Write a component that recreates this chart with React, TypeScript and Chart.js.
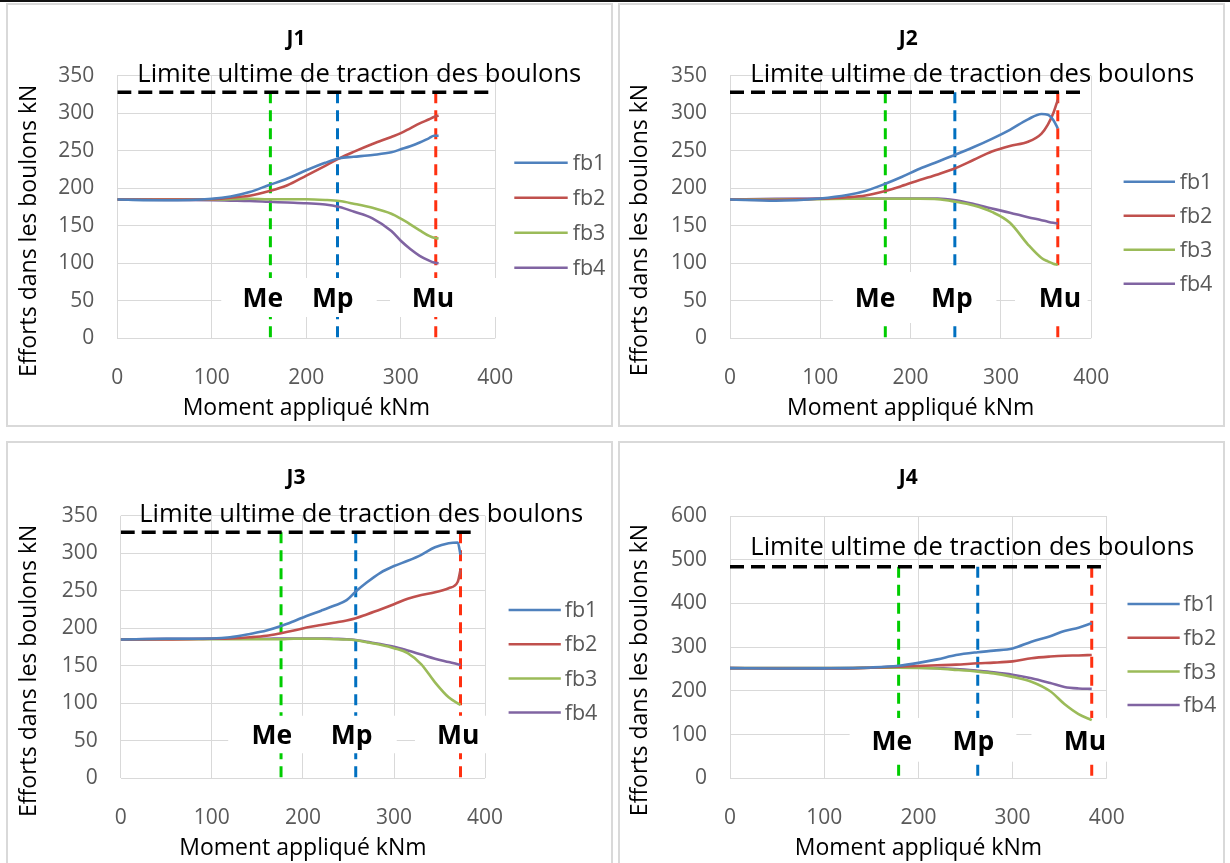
import React, { useEffect, useRef } from "react";
import { Chart, registerables } from "chart.js";

Chart.register(...registerables);

const FONT = '"Open Sans", "Noto Sans", sans-serif';

// ---------- shared texts ----------
const seriesLabels = ["fb1", "fb2", "fb3", "fb4"];
const markerLabels = ["Me", "Mp", "Mu"];
const limitLabel = "Limite ultime de traction des boulons";
const xAxisTitle = "Moment appliqué kNm";
const yAxisTitle = "Efforts dans les boulons kN";
const xTicks = [0, 100, 200, 300, 400];
const yTicks350 = [0, 50, 100, 150, 200, 250, 300, 350];
const yTicks600 = [0, 100, 200, 300, 400, 500, 600];

// ---------- J1 ----------
const j1Moment = [0, 50, 100, 120, 140, 160, 180, 200, 220, 235, 250, 270, 290, 300, 310, 320, 330, 335, 340];
const j1Fb1 = [185, 184, 186, 189, 195, 204, 213, 224, 234, 240, 242, 244.5, 248, 252, 256, 261, 267, 270, 270];
const j1Fb2 = [185, 185, 185.5, 187.5, 190, 196, 204, 217, 230, 240, 248.5, 259, 268.5, 273.5, 280, 286.5, 292, 295, 297];
const j1Fb3 = [185, 185, 185, 185.5, 186, 185.5, 185.5, 185.5, 184.5, 183, 179.5, 174, 166, 159.5, 152, 144, 136.5, 134, 133];
const j1Fb4 = [185, 184.5, 184, 183.5, 183, 182, 181, 180, 178.5, 175, 169, 160, 143, 130, 119, 110, 103.5, 101, 100];
const j1Limit = 328;
const j1LimitX = [0, 400];
const j1Markers = [162, 233, 337];

// ---------- J2 ----------
const j2Moment = [0, 50, 100, 130, 150, 172, 190, 210, 230, 250, 270, 290, 310, 330, 345, 352, 358, 363];
const j2Fb1 = [185, 183.5, 186.5, 191, 196.5, 206, 215, 226, 235.5, 245, 255, 266, 278, 292, 299, 298, 291, 280];
const j2Fb2 = [185, 184.5, 186, 188, 190.5, 196.5, 203, 211, 218.5, 227, 238, 249, 256.5, 262, 273, 285, 300, 318];
const j2Fb3 = [185, 185, 185.5, 186, 186, 186, 186, 186, 185.5, 182, 177, 168.5, 154, 125, 107, 102.5, 99.5, 98];
const j2Fb4 = [185, 186, 186.5, 186.5, 186.5, 186.5, 186.5, 186.5, 186.5, 184, 179, 173, 167.5, 161.5, 157.5, 155.5, 154, 153];
const j2Limit = 328;
const j2LimitX = [0, 392];
const j2Markers = [172, 249, 363];

// ---------- J3 ----------
const j3Moment = [0, 50, 100, 120, 142, 160, 176, 190, 204, 220, 234, 248, 258, 270, 285, 300, 315, 330, 345, 360, 370, 373];
const j3Fb1 = [185, 186, 186.5, 188, 192.5, 197, 203, 209.5, 216.5, 223.5, 230, 237.5, 249, 261, 274, 283, 290, 298, 308, 313.5, 314.5, 298];
const j3Fb2 = [185, 185, 186, 186.5, 188, 190, 193.5, 197, 201, 204.5, 207.5, 210.5, 213.5, 218.5, 225, 232, 239.5, 244.5, 248, 253.5, 262, 278];
const j3Fb3 = [185, 185.5, 185.5, 185.5, 185.5, 185.5, 185.5, 186, 186, 186, 185.5, 185, 184, 181.5, 178, 173.5, 167, 152, 128, 108, 100, 98];
const j3Fb4 = [185, 186, 186, 186, 186, 186, 186.5, 186.5, 186.5, 186.5, 186, 185.5, 184.5, 182, 179, 175.5, 170.5, 165, 159.5, 155, 152, 151];
const j3Limit = 328;
const j3LimitX = [0, 387];
const j3Markers = [176, 258, 373];

// ---------- J4 ----------
const j4Moment = [0, 50, 100, 125, 150, 179, 200, 220, 240, 263, 280, 300, 320, 340, 355, 370, 384];
const j4Fb1 = [252, 251, 251.5, 252, 253.5, 257.5, 264, 272, 282, 288.5, 292, 297, 312.5, 325, 337, 344.5, 354.5];
const j4Fb2 = [252, 251, 251, 251.5, 253, 255.5, 257, 258.5, 260, 263, 264.5, 267.5, 274.5, 278.5, 280.5, 281, 282];
const j4Fb3 = [252, 252, 252, 252, 253, 253, 252.5, 251, 248, 244, 240, 232, 221, 199, 170, 147, 133];
const j4Fb4 = [252, 252, 252, 252, 253, 253.5, 253, 252, 250, 246, 242.5, 237, 229, 218, 209, 205.5, 204.5];
const j4Limit = 484;
const j4LimitX = [0, 400];
const j4Markers = [179, 263, 384];

// ---------- styles ----------
const seriesColors = ["#4F81BD", "#C0504D", "#9BBB59", "#8064A2"];
const markerColors = ["#00CC00", "#0070C0", "#FF3010"];
const GRID = "#d9d9d9";
const CW = 603;
const CH = 420;

type Panel = {
  title: string;
  moment: number[];
  series: number[][];
  limit: number;
  limitX: number[];
  markers: number[];
  yMax: number;
  yTicks: number[];
  left: number;
  top: number;
  area: { l: number; r: number; t: number; b: number };
  legend: { x1: number; x2: number; tx: number; y0: number; dy: number };
  boxes: number[][];
  boxY: number[];
  labelX: number[];
  labelBase: number;
  limitDx: number;
  limitDy: number;
  yTitle: number[];
  xTitleY: number;
  titlePos: number[];
};

const panels: Panel[] = [
  {
    title: "J1", moment: j1Moment, series: [j1Fb1, j1Fb2, j1Fb3, j1Fb4], limit: j1Limit, limitX: j1LimitX,
    markers: j1Markers, yMax: 350, yTicks: yTicks350, left: 6, top: 3,
    area: { l: 109.3, r: 487.3, t: 70.8, b: 333.3 },
    legend: { x1: 506.3, x2: 559.7, tx: 564.7, y0: 157.7, dy: 35 },
    boxes: [[110, 274.5], [288.6, 402]], boxY: [80.4, 28.4], labelX: [154, 228, 334], labelBase: 41.3,
    limitDx: 20, limitDy: -10, yTitle: [21.4, 225.8], xTitleY: 403, titlePos: [288, 39.5],
  },
  {
    title: "J2", moment: j2Moment, series: [j2Fb1, j2Fb2, j2Fb3, j2Fb4], limit: j2Limit, limitX: j2LimitX,
    markers: j2Markers, yMax: 350, yTicks: yTicks350, left: 618, top: 3,
    area: { l: 110, r: 471.2, t: 70.8, b: 333.3 },
    legend: { x1: 503.6, x2: 555, tx: 559.7, y0: 176.7, dy: 34 },
    boxes: [[114, 295], [315.6, 396]], boxY: [88.4, 20.4], labelX: [160.6, 245.8, 365.4], labelBase: 42.1,
    limitDx: 20.3, limitDy: -10, yTitle: [20.5, 225], xTitleY: 403, titlePos: [288.3, 39.5],
  },
  {
    title: "J3", moment: j3Moment, series: [j3Fb1, j3Fb2, j3Fb3, j3Fb4], limit: j3Limit, limitX: j3LimitX,
    markers: j3Markers, yMax: 350, yTicks: yTicks350, left: 6, top: 441,
    area: { l: 112.7, r: 477.1, t: 72.8, b: 335.3 },
    legend: { x1: 500.6, x2: 552.8, tx: 556.7, y0: 167, dy: 34.2 },
    boxes: [[118, 303], [323, 402]], boxY: [83.4, 33.4], labelX: [165.8, 253.6, 370.6], labelBase: 45.7,
    limitDx: 18.5, limitDy: -10, yTitle: [21.4, 227.8], xTitleY: 405.3, titlePos: [288, 40.5],
  },
  {
    title: "J4", moment: j4Moment, series: [j4Fb1, j4Fb2, j4Fb3, j4Fb4], limit: j4Limit, limitX: j4LimitX,
    markers: j4Markers, yMax: 600, yTicks: yTicks600, left: 618, top: 441,
    area: { l: 110, r: 486.8, t: 73, b: 335.3 },
    legend: { x1: 507.5, x2: 559.7, tx: 563.6, y0: 161, dy: 33.7 },
    boxes: [[127, 304], [320, 410]], boxY: [138, 38], labelX: [171.7, 258.3, 376.9], labelBase: 64.8,
    limitDx: 20.3, limitDy: -12, yTitle: [20.5, 227], xTitleY: 405.3, titlePos: [288.3, 40.5],
  },
];

function makeOverlay(p: Panel) {
  return {
    id: "overlay" + p.title,
    beforeDatasetDraw(chart: any, args: any) {
      if (args.index !== 3) return;
      const { ctx } = chart;
      const x = chart.scales.x;
      const y = chart.scales.y;
      ctx.save();
      // white label boxes
      ctx.fillStyle = "#ffffff";
      const yt = y.getPixelForValue(p.boxY[0]);
      const yb = y.getPixelForValue(p.boxY[1]);
      p.boxes.forEach((b) => {
        const xa = x.getPixelForValue(b[0]);
        const xb = x.getPixelForValue(b[1]);
        ctx.fillRect(xa, yt, xb - xa, yb - yt);
      });
      // Me / Mp / Mu
      ctx.fillStyle = "#000";
      ctx.font = `bold 26.5px ${FONT}`;
      ctx.textAlign = "center";
      ctx.textBaseline = "alphabetic";
      markerLabels.forEach((t, i) => {
        ctx.fillText(t, x.getPixelForValue(p.labelX[i]), y.getPixelForValue(p.labelBase));
      });
      // limit text
      ctx.font = `25.6px ${FONT}`;
      ctx.textAlign = "left";
      ctx.fillText(limitLabel, chart.chartArea.left + p.limitDx, y.getPixelForValue(p.limit) + p.limitDy);
      ctx.restore();
    },
    afterDraw(chart: any) {
      const { ctx, chartArea } = chart;
      ctx.save();
      // title
      ctx.fillStyle = "#000";
      ctx.font = `bold 21px ${FONT}`;
      ctx.textAlign = "center";
      ctx.textBaseline = "alphabetic";
      ctx.fillText(p.title, p.titlePos[0], p.titlePos[1]);
      // x axis title
      ctx.font = `23px ${FONT}`;
      ctx.textBaseline = "middle";
      ctx.fillText(xAxisTitle, (chartArea.left + chartArea.right) / 2, p.xTitleY);
      // y axis title
      ctx.save();
      ctx.translate(p.yTitle[0], p.yTitle[1]);
      ctx.rotate(-Math.PI / 2);
      ctx.fillText(yAxisTitle, 0, 0);
      ctx.restore();
      // legend
      ctx.font = `21.5px ${FONT}`;
      ctx.textAlign = "left";
      ctx.textBaseline = "middle";
      for (let i = 0; i < 4; i++) {
        const ds = chart.data.datasets[i];
        const ly = p.legend.y0 + i * p.legend.dy;
        ctx.strokeStyle = ds.borderColor;
        ctx.lineWidth = 2.5;
        ctx.beginPath();
        ctx.moveTo(p.legend.x1, ly);
        ctx.lineTo(p.legend.x2, ly);
        ctx.stroke();
        ctx.fillStyle = "#595959";
        ctx.fillText(ds.label, p.legend.tx, ly + 1);
      }
      ctx.restore();
    },
  };
}

function PanelChart({ p }: { p: Panel }) {
  const ref = useRef<HTMLCanvasElement>(null);
  useEffect(() => {
    const canvas = ref.current;
    if (!canvas) return;
    const datasets: any[] = p.series.map((s, i) => ({
      label: seriesLabels[i],
      data: p.moment.map((m, k) => ({ x: m, y: s[k] })),
      borderColor: seriesColors[i],
      backgroundColor: seriesColors[i],
      borderWidth: 2.6,
      pointRadius: 0,
      fill: false,
      cubicInterpolationMode: "monotone",
    }));
    datasets.push({
      label: "limite",
      data: p.limitX.map((v) => ({ x: v, y: p.limit })),
      borderColor: "#000",
      borderWidth: 3.5,
      borderDash: [14, 7],
      pointRadius: 0,
      fill: false,
    });
    p.markers.forEach((m, i) => {
      datasets.push({
        label: markerLabels[i],
        data: [{ x: m, y: p.limit }, { x: m, y: 0 }],
        borderColor: markerColors[i],
        borderWidth: 3,
        borderDash: [11, 7],
        pointRadius: 0,
        fill: false,
      });
    });
    const chart = new Chart(canvas, {
      type: "line",
      data: { datasets },
      options: {
        animation: false,
        responsive: false,
        devicePixelRatio: 1,
        events: [],
        layout: { padding: { left: 0, top: p.area.t, right: CW - p.area.r, bottom: 0 } },
        plugins: { legend: { display: false }, tooltip: { enabled: false }, title: { display: false } },
        scales: {
          x: {
            type: "linear",
            min: 0,
            max: 400,
            afterBuildTicks: (axis: any) => {
              axis.ticks = xTicks.map((v) => ({ value: v }));
            },
            afterFit: (axis: any) => {
              axis.height = CH - p.area.b;
            },
            grid: { color: GRID, lineWidth: 1, drawTicks: false },
            border: { display: false },
            ticks: {
              color: "#595959",
              font: { family: FONT, size: 21 },
              padding: 27,
              maxRotation: 0,
              autoSkip: false,
              callback: (v: any) => String(v),
            },
          },
          y: {
            type: "linear",
            min: 0,
            max: p.yMax,
            afterBuildTicks: (axis: any) => {
              axis.ticks = p.yTicks.map((v) => ({ value: v }));
            },
            afterFit: (axis: any) => {
              axis.width = p.area.l;
            },
            grid: { color: GRID, lineWidth: 1, drawTicks: false },
            border: { display: false },
            ticks: {
              color: "#595959",
              font: { family: FONT, size: 21 },
              padding: 23,
              autoSkip: false,
              callback: (v: any) => String(v),
            },
          },
        },
      } as any,
      plugins: [makeOverlay(p)],
    });
    return () => chart.destroy();
  }, [p]);
  return (
    <div
      style={{
        position: "absolute",
        left: p.left,
        top: p.top,
        width: CW,
        height: CH,
        border: `2px solid ${GRID}`,
        background: "#fff",
      }}
    >
      <canvas ref={ref} width={CW} height={CH} style={{ display: "block", width: CW, height: CH }} />
    </div>
  );
}

export default function App() {
  return (
    <div
      style={{
        position: "fixed",
        left: 0,
        top: 0,
        width: 1230,
        height: 863,
        overflow: "hidden",
        background: "#fff",
      }}
    >
      <div style={{ position: "absolute", left: 0, top: 0, width: 1230, height: 2, background: "#111" }} />
      {panels.map((p) => (
        <PanelChart key={p.title} p={p} />
      ))}
    </div>
  );
}
